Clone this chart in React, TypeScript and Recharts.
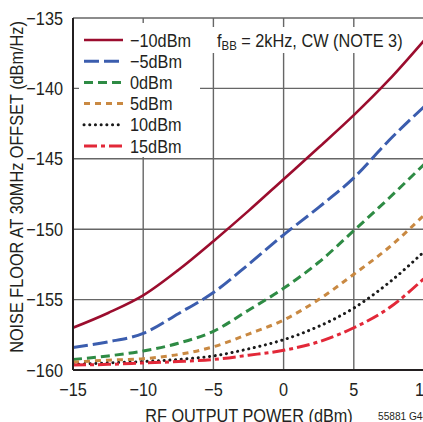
import React from 'react';
import { LineChart, Line, XAxis, YAxis, CartesianGrid } from 'recharts';

const xValues = [-15, -12.5, -10, -7.5, -5, -2.5, 0, 2.5, 5, 7.5, 10];
const sM10 = [-157.0, -155.95, -154.7, -152.9, -150.85, -148.7, -146.45, -144.2, -141.9, -139.4, -136.6];
const sM5 = [-158.4, -158.0, -157.4, -156.0, -154.5, -152.5, -150.4, -148.45, -146.35, -143.7, -141.3];
const s0 = [-159.25, -159.0, -158.65, -158.1, -157.25, -155.75, -154.2, -152.35, -150.1, -147.8, -145.4];
const s5 = [-159.45, -159.3, -159.2, -158.9, -158.35, -157.45, -156.45, -155.0, -153.2, -151.3, -149.0];
const s10 = [-159.6, -159.5, -159.4, -159.25, -159.0, -158.5, -157.85, -156.9, -155.6, -153.8, -151.6];
const s15 = [-159.65, -159.6, -159.5, -159.4, -159.25, -158.95, -158.6, -158.0, -157.0, -155.6, -153.5];

const xTicks = [-15, -10, -5, 0, 5, 10];
const yTicks = [-160, -155, -150, -145, -140, -135];

const seriesNames = ['−10dBm', '−5dBm', '0dBm', '5dBm', '10dBm', '15dBm'];
const seriesKeys = ['m10', 'm5', 'p0', 'p5', 'p10', 'p15'];
const seriesValues = [sM10, sM5, s0, s5, s10, s15];

const seriesStyles = [
  { color: '#9b0d2e', dash: undefined as string | undefined, width: 2.6, cap: 'butt' },
  { color: '#3b5dae', dash: '15 5', width: 3, cap: 'butt' },
  { color: '#2e8b44', dash: '9 5', width: 3, cap: 'butt' },
  { color: '#c98942', dash: '6 5', width: 3, cap: 'butt' },
  { color: '#1a1a1a', dash: '0.1 5.6', width: 3, cap: 'round' },
  { color: '#e22838', dash: '13 4 4 4', width: 3, cap: 'butt' },
];

const data = xValues.map((x, i) => {
  const row: Record<string, number> = { x };
  seriesKeys.forEach((k, j) => {
    row[k] = seriesValues[j][i];
  });
  return row;
});

const FONT = "'Liberation Sans', Arial, sans-serif";
const FS = 18.5;
const SX = 0.88;
const INK = '#231f20';

const fmt = (v: number) => (v < 0 ? `−${-v}` : `${v}`);

const CHART_W = 430;
const CHART_H = 422;

const XTick = (props: any) => {
  const { x, y, payload } = props;
  return (
    <g transform={`translate(${x},${y})`}>
      <text transform={`scale(${SX},1)`} x={0} y={0} dy="0.71em" textAnchor="middle" fill={INK} fontSize={FS} fontFamily={FONT}>
        {fmt(payload.value)}
      </text>
    </g>
  );
};

const YTick = (props: any) => {
  const { x, y, payload } = props;
  return (
    <g transform={`translate(${x},${y})`}>
      <text transform={`scale(${SX},1)`} x={0} y={0} dy="0.36em" textAnchor="end" fill={INK} fontSize={FS} fontFamily={FONT}>
        {fmt(payload.value)}
      </text>
    </g>
  );
};

const legendRowY = [40, 61.2, 82.4, 103.6, 124.8, 146];

export default function App() {
  return (
    <div style={{ position: 'fixed', left: 0, top: 0, width: 423, height: 422, overflow: 'hidden', background: '#fff' }}>
      <LineChart
        width={CHART_W}
        height={CHART_H}
        data={data}
        margin={{ top: 18, right: CHART_W - 424, bottom: 21, left: 13 }}
      >
        <CartesianGrid stroke="#666" strokeWidth={1.4} />
        <XAxis
          dataKey="x"
          type="number"
          domain={[-15, 10]}
          ticks={xTicks}
          height={31}
          tickSize={0}
          tickMargin={12.5}
          axisLine={{ stroke: INK, strokeWidth: 2 }}
          tickLine={false}
          tick={<XTick />}
          interval={0}
          allowDataOverflow
          label={{
            content: () => (
              <g transform="translate(249,421.5)">
                <text transform={`scale(${SX},1)`} x={0} y={0} textAnchor="middle" fill={INK} fontSize={FS} fontFamily={FONT}>
                  RF OUTPUT POWER (dBm)
                </text>
              </g>
            ),
          }}
        />
        <YAxis
          type="number"
          domain={[-160, -135]}
          ticks={yTicks}
          width={60}
          tickSize={0}
          tickMargin={10}
          axisLine={{ stroke: INK, strokeWidth: 2 }}
          tickLine={false}
          tick={<YTick />}
          interval={0}
          allowDataOverflow
          label={{
            content: () => (
              <g transform="translate(22.5,187) rotate(-90)">
                <text transform={`scale(${SX},1)`} x={0} y={0} textAnchor="middle" fill={INK} fontSize={FS} fontFamily={FONT}>
                  NOISE FLOOR AT 30MHz OFFSET (dBm/Hz)
                </text>
              </g>
            ),
          }}
        />
        {seriesKeys.map((k, i) => (
          <Line
            key={k}
            dataKey={k}
            name={seriesNames[i]}
            type="monotone"
            stroke={seriesStyles[i].color}
            strokeWidth={seriesStyles[i].width}
            strokeDasharray={seriesStyles[i].dash}
            strokeLinecap={seriesStyles[i].cap as any}
            dot={false}
            activeDot={false}
            isAnimationActive={false}
          />
        ))}
      </LineChart>

      <svg
        width={423}
        height={422}
        style={{ position: 'absolute', left: 0, top: 0, pointerEvents: 'none' }}
      >
        <rect x={79} y={23} width={121} height={134} fill="#fff" />
        {seriesNames.map((n, i) => (
          <g key={n}>
            <line
              x1={84}
              x2={123}
              y1={legendRowY[i]}
              y2={legendRowY[i]}
              stroke={seriesStyles[i].color}
              strokeWidth={seriesStyles[i].width}
              strokeDasharray={seriesStyles[i].dash}
              strokeLinecap={seriesStyles[i].cap as any}
            />
            <g transform={`translate(130,${legendRowY[i]})`}>
              <text transform={`scale(${SX},1)`} x={0} y={0} dy="0.36em" fill={INK} fontSize={FS} fontFamily={FONT}>
                {n}
              </text>
            </g>
          </g>
        ))}
        <rect x={211} y={27} width={196} height={26} fill="#fff" />
        <g transform="translate(217,46.5)">
          <text transform={`scale(${SX},1)`} x={0} y={0} fill={INK} fontSize={FS} fontFamily={FONT}>
            f
            <tspan fontSize={13} dy={3.5}>BB</tspan>
            <tspan dy={-3.5}> = 2kHz, CW (NOTE 3)</tspan>
          </text>
        </g>
        <g transform="translate(378,420)">
          <text transform={`scale(${SX},1)`} x={0} y={0} fill={INK} fontSize={11.5} fontFamily={FONT}>
            55881 G44
          </text>
        </g>
      </svg>
    </div>
  );
}
